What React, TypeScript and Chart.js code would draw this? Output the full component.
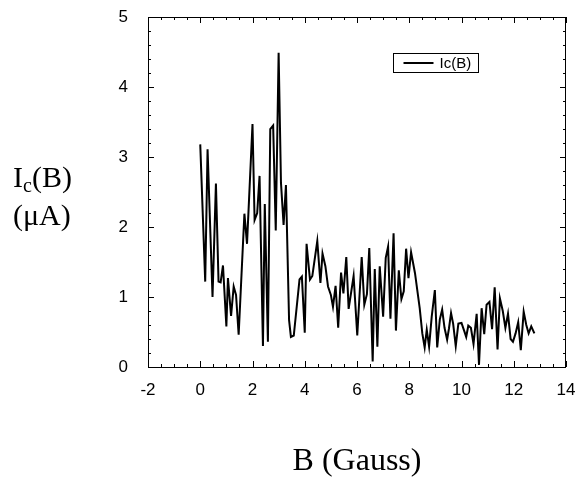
import React, { useEffect, useRef } from "react";
import { Chart, registerables } from "chart.js";

Chart.register(...registerables);

const fieldGauss = [
  0.0, 0.19, 0.28, 0.47, 0.6, 0.7, 0.78, 0.87, 1.0, 1.06, 1.18, 1.28, 1.37, 1.47, 1.69, 1.79,
  2.0, 2.08, 2.18, 2.27, 2.4, 2.47, 2.59, 2.68, 2.79, 2.89, 3.0, 3.09, 3.19, 3.28, 3.4, 3.47,
  3.58, 3.8, 3.89, 4.0, 4.07, 4.2, 4.29, 4.48, 4.6, 4.68, 4.79, 4.89, 5.0, 5.08, 5.18, 5.28,
  5.39, 5.48, 5.59, 5.68, 5.87, 6.01, 6.18, 6.28, 6.38, 6.47, 6.6, 6.68, 6.78, 6.87, 7.0, 7.1,
  7.19, 7.28, 7.4, 7.49, 7.6, 7.7, 7.79, 7.88, 7.97, 8.07, 8.22, 8.4, 8.5, 8.59, 8.67, 8.76,
  8.86, 8.98, 9.07, 9.17, 9.26, 9.35, 9.45, 9.52, 9.6, 9.68, 9.78, 9.88, 10.0, 10.1, 10.18,
  10.26, 10.36, 10.46, 10.58, 10.67, 10.77, 10.87, 10.96, 11.07, 11.17, 11.27, 11.38, 11.47,
  11.58, 11.68, 11.78, 11.88, 11.97, 12.07, 12.17, 12.27, 12.38, 12.48, 12.57, 12.67, 12.73, 12.79,
];

const criticalCurrent = [
  3.18, 1.22, 3.11, 1.0, 2.62, 1.22, 1.21, 1.45, 0.58, 1.27, 0.73, 1.15, 1.03, 0.46, 2.19, 1.76,
  3.47, 2.1, 2.2, 2.73, 0.3, 2.33, 0.36, 3.4, 3.45, 1.95, 4.49, 2.63, 2.03, 2.6, 0.67, 0.43,
  0.45, 1.25, 1.29, 0.49, 1.76, 1.25, 1.3, 1.8, 1.2, 1.62, 1.44, 1.15, 1.03, 0.86, 1.16, 0.56,
  1.35, 1.05, 1.57, 0.83, 1.3, 0.45, 1.57, 0.89, 1.04, 1.7, 0.08, 1.4, 0.29, 1.44, 0.72, 1.56,
  1.72, 0.69, 1.91, 0.52, 1.38, 0.97, 1.08, 1.69, 1.27, 1.64, 1.34, 0.84, 0.48, 0.28, 0.53, 0.29,
  0.72, 1.1, 0.28, 0.68, 0.82, 0.56, 0.39, 0.55, 0.77, 0.62, 0.3, 0.62, 0.63, 0.52, 0.43,
  0.59, 0.56, 0.33, 0.76, 0.03, 0.84, 0.47, 0.89, 0.93, 0.54, 1.14, 0.25, 0.98,
  0.8, 0.56, 0.76, 0.4, 0.36, 0.48, 0.64, 0.24, 0.79, 0.6, 0.48, 0.58, 0.53, 0.48,
];

const seriesLabel = "Ic(B)";
const xAxisTitle = "B (Gauss)";
const xRange = [-2, 14];
const yRange = [0, 5];
const xMajorStep = 2;
const xMinorStep = 0.5;
const yMajorStep = 1;
const yMinorStep = 0.2;

const tickFont = "'Liberation Sans', Arial, Helvetica, sans-serif";
const serifFont = "'Liberation Serif', 'Times New Roman', serif";

const frameTicksPlugin = {
  id: "frameTicks",
  afterDatasetsDraw(chart: any) {
    const { ctx, chartArea } = chart;
    const { left, right, top, bottom } = chartArea;
    const xs = chart.scales.x;
    const ys = chart.scales.y;
    ctx.save();
    ctx.strokeStyle = "#000";
    ctx.lineWidth = 1;
    ctx.strokeRect(left + 0.5, top + 0.5, right - left - 1, bottom - top);
    ctx.beginPath();
    const nx = Math.round((xRange[1] - xRange[0]) / xMinorStep);
    for (let i = 0; i <= nx; i++) {
      const v = xRange[0] + i * xMinorStep;
      const major = Math.abs(v / xMajorStep - Math.round(v / xMajorStep)) < 1e-6;
      const len = major ? 6 : 3;
      const px = Math.round(xs.getPixelForValue(v)) + 0.5;
      ctx.moveTo(px, bottom);
      ctx.lineTo(px, bottom - len);
      ctx.moveTo(px, top);
      ctx.lineTo(px, top + len);
    }
    const ny = Math.round((yRange[1] - yRange[0]) / yMinorStep);
    for (let i = 0; i <= ny; i++) {
      const v = yRange[0] + i * yMinorStep;
      const major = Math.abs(v / yMajorStep - Math.round(v / yMajorStep)) < 1e-6;
      const len = major ? 6 : 3;
      const py = Math.round(ys.getPixelForValue(v)) + 0.5;
      ctx.moveTo(left, py);
      ctx.lineTo(left + len, py);
      ctx.moveTo(right, py);
      ctx.lineTo(right - len, py);
    }
    ctx.stroke();

    // legend box
    const label = chart.data.datasets[0].label;
    const bx = right - 173 + 0.5;
    const by = top + 36 + 0.5;
    const bw = 85;
    const bh = 19;
    ctx.lineWidth = 1;
    ctx.strokeRect(bx, by, bw, bh);
    ctx.beginPath();
    ctx.lineWidth = 2;
    ctx.moveTo(bx + 10, by + bh / 2);
    ctx.lineTo(bx + 40, by + bh / 2);
    ctx.stroke();
    ctx.fillStyle = "#000";
    ctx.font = `15px ${tickFont}`;
    ctx.textBaseline = "middle";
    ctx.textAlign = "left";
    ctx.fillText(label, bx + 46, by + bh / 2 + 1);
    ctx.restore();
  },
};

export default function App() {
  const canvasRef = useRef<HTMLCanvasElement | null>(null);

  useEffect(() => {
    document.body.style.margin = "0";
    const canvas = canvasRef.current;
    if (!canvas) return;
    const points = fieldGauss.map((b, i) => ({ x: b, y: criticalCurrent[i] }));
    const chart = new Chart(canvas, {
      type: "line",
      data: {
        datasets: [
          {
            label: seriesLabel,
            data: points,
            borderColor: "#000",
            backgroundColor: "#000",
            borderWidth: 2,
            pointRadius: 0,
            tension: 0,
            fill: false,
          },
        ],
      },
      options: {
        responsive: false,
        animation: false,
        devicePixelRatio: 1,
        layout: { padding: { left: 0, top: 17, right: 22, bottom: 0 } },
        plugins: { legend: { display: false }, tooltip: { enabled: false } },
        scales: {
          x: {
            type: "linear",
            min: xRange[0],
            max: xRange[1],
            afterFit: (s: any) => {
              s.height = 111;
              s.paddingLeft = 0;
              s.paddingRight = 0;
            },
            grid: { display: false, drawTicks: false },
            border: { display: false },
            ticks: {
              stepSize: xMajorStep,
              color: "#000",
              padding: 13,
              font: { family: tickFont, size: 17 },
              maxRotation: 0,
            },
            title: {
              display: true,
              text: xAxisTitle,
              color: "#000",
              font: { family: serifFont, size: 32, lineHeight: 1.0 },
              padding: { top: 0, bottom: 0 },
            },
          },
          y: {
            type: "linear",
            min: yRange[0],
            max: yRange[1],
            afterFit: (s: any) => {
              s.width = 148;
              s.paddingTop = 0;
              s.paddingBottom = 0;
            },
            grid: { display: false, drawTicks: false },
            border: { display: false },
            ticks: {
              stepSize: yMajorStep,
              color: "#000",
              padding: 20,
              font: { family: tickFont, size: 17 },
            },
          },
        },
      },
      plugins: [frameTicksPlugin],
    });
    return () => chart.destroy();
  }, []);

  return (
    <div style={{ position: "relative", width: 588, height: 478 }}>
      <canvas ref={canvasRef} width={588} height={478} style={{ display: "block" }} />
      <div
        style={{
          position: "absolute",
          left: 13,
          top: 158,
          fontFamily: serifFont,
          fontSize: 30,
          lineHeight: "38px",
          color: "#000",
          whiteSpace: "nowrap",
        }}
      >
        <div>
          I<sub style={{ fontSize: 20, verticalAlign: "-5px", lineHeight: 0 }}>c</sub>(B)
        </div>
        <div>(μA)</div>
      </div>
    </div>
  );
}
